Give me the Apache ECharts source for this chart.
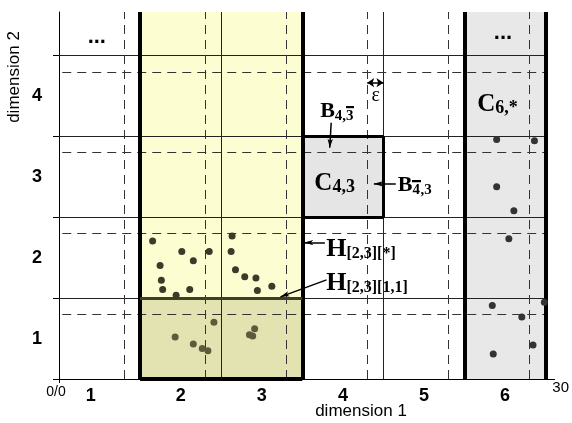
<!DOCTYPE html>
<html><head><meta charset="utf-8">
<script src="https://cdn.jsdelivr.net/npm/echarts@6/dist/echarts.min.js"></script>
<style>html,body{margin:0;padding:0;background:#fff}#c{width:572px;height:423px}</style>
</head><body><div id="c"></div>
<script>
// ---- axis extents ----
const X_MAX = 30.55, Y_MAX = 22.7;
// ---- grid structure (data units) ----
const solidX = [10, 20];
const solidY = [5, 10, 15, 20];
const dashedX = [4, 9, 14, 19, 24, 29];
const dashedY = [4, 9, 14, 19];
const thickX = [5, 15, 25, 30];
// ---- tick labels ----
const xLabelValues = [0, 1.96, 7.5, 12.5, 17.5, 22.5, 27.5, 30];
const xLabelTexts = ['0/0', '1', '2', '3', '4', '5', '6', '30'];
const yLabelValues = [2.5, 7.5, 12.5, 17.5];
const yLabelTexts = ['1', '2', '3', '4'];
const yTickValues = [0, 5, 10, 15, 20];
// ---- points ----
const hullUpperPts = [[5.77,8.54],[7.57,7.88],[9.26,7.88],[6.23,7.02],[8.28,7.31],[6.31,6.11],[6.39,5.53],[7.22,5.18],[8.06,5.53],[10.67,8.84],[10.61,7.88],[10.88,6.75],[11.45,6.32],[12.14,6.25],[12.23,5.47],[13.12,5.74]];
const hullLowerPts = [[7.16,2.60],[8.28,2.17],[8.83,1.88],[9.18,1.75],[9.55,3.51],[11.74,2.74],[11.94,2.66],[12.06,3.11]];
const col6Pts = [[26.98,14.82],[29.31,14.74],[26.98,11.89],[28.04,10.40],[27.73,8.67],[26.71,4.54],[28.53,3.84],[29.92,4.75],[29.22,2.11],[26.77,1.55]];
// ---- annotations (data coords, text) ----
const annLeft = [
  {x:16.10, y:16.53, text:'{b|B}{s|4,}{sbar|3}'},
  {x:15.74, y:12.10, text:'{c|C}{s2|4,3}'},
  {x:20.88, y:11.95, text:'{b|B}{sbar|4}{s|,3}'},
  {x:16.47, y:8.05,  text:'{h|H}{s3|[2,3][*]}'},
  {x:16.47, y:5.94,  text:'{h|H}{s3|[2,3][1,1]}'},
  {x:25.78, y:16.97, text:'{c|C}{s2|6,*}'}
];
const annCenter = [
  {x:2.33, y:21.18, text:'{d|...}'},
  {x:27.37, y:21.42, text:'{d|...}'},
  {x:19.53, y:17.52, text:'{e|\u03b5}'}
];
// ---- arrows [x1,y1,x2,y2] ----
const arrows = [
  [16.78, 15.85, 16.69, 14.30],
  [20.76, 12.07, 19.41, 12.07],
  [16.39, 8.44, 15.12, 8.44],
  [16.49, 6.13, 13.65, 5.08]
];
const epsArrow = [19, 18.33, 20, 18.33];

const serif = '"Liberation Serif","Times New Roman",serif';
const sans = '"Liberation Sans",Arial,sans-serif';

// overline image used as background of a barred subscript token
const barCanvas = document.createElement('canvas');
barCanvas.width = 10; barCanvas.height = 22;
(function(){ const g = barCanvas.getContext('2d'); g.fillStyle = '#000'; g.fillRect(0, 0, 10, 3); })();

function vline(x, y0, y1){ return [{coord:[x,y0]},{coord:[x,y1]}]; }
function hline(y, x0, x1){ return [{coord:[x0,y]},{coord:[x1,y]}]; }

const chart = echarts.init(document.getElementById('c'), null, {renderer:'canvas'});
const noLabel = {show:false};
const option = {
  animation:false,
  grid:{left:59, right:14, top:12, bottom:44},
  xAxis:{
    type:'value', min:0, max:X_MAX,
    splitLine:{show:false},
    axisLine:{lineStyle:{color:'#000', width:1}},
    axisTick:{show:true, customValues:[0], length:4, lineStyle:{color:'#000'}},
    axisLabel:{
      customValues:xLabelValues, margin:8, hideOverlap:false, showMinLabel:true, showMaxLabel:true,
      formatter:function(v){
        const i = xLabelValues.findIndex(function(a){return Math.abs(a-v)<1e-6;});
        if(i<0) return '';
        if(i===0) return '{s|'+xLabelTexts[i]+'}';
        if(i===xLabelTexts.length-1) return '{e|'+xLabelTexts[i]+'}';
        return '{b|'+xLabelTexts[i]+'}';
      },
      rich:{
        b:{fontSize:18, fontWeight:'bold', fontFamily:sans, color:'#000', lineHeight:18},
        s:{fontSize:14, fontFamily:sans, color:'#000', lineHeight:10, padding:[0,6,0,0]},
        e:{fontSize:15, fontFamily:sans, color:'#000', lineHeight:2, padding:[0,0,0,30]}
      }
    }
  },
  yAxis:{
    type:'value', min:0, max:Y_MAX,
    splitLine:{show:false},
    axisLine:{lineStyle:{color:'#000', width:1}},
    axisTick:{show:true, customValues:yTickValues, length:6, lineStyle:{color:'#000'}},
    axisLabel:{
      customValues:yLabelValues, margin:17,
      formatter:function(v){
        const i = yLabelValues.findIndex(function(a){return Math.abs(a-v)<1e-6;});
        return i<0 ? '' : yLabelTexts[i];
      },
      fontSize:18, fontWeight:'bold', fontFamily:sans, color:'#000'
    }
  },
  graphic:[
    {type:'text', x:361, y:411, style:{text:'dimension 1', align:'center', verticalAlign:'middle', font:'17px '+sans, fill:'#000'}},
    {type:'text', x:14, y:77, rotation:Math.PI/2, style:{text:'dimension 2', align:'center', verticalAlign:'middle', font:'17px '+sans, fill:'#000'}}
  ],
  series:[
    { // fills
      type:'line', data:[], z:1, silent:true,
      markArea:{silent:true, label:noLabel, data:[
        [{xAxis:5, itemStyle:{color:'#fdfdd2'}},{xAxis:15}],
        [{coord:[5,0], itemStyle:{color:'#e3e3b2'}},{coord:[15,5]}],
        [{xAxis:25, itemStyle:{color:'#e8e8e8'}},{xAxis:30}],
        [{coord:[15,10], itemStyle:{color:'#e5e5e5'}},{coord:[20,15]}]
      ]}
    },
    { // thin solid grid
      type:'line', data:[], z:2, silent:true,
      markLine:{silent:true, symbol:'none', label:noLabel, lineStyle:{type:'solid', color:'#222', width:1},
        data: solidY.map(function(y){return hline(y,0,30);}).concat(solidX.map(function(x){return vline(x,0,Y_MAX);}))}
    },
    { // dashed grid
      type:'line', data:[], z:2, silent:true,
      markLine:{silent:true, symbol:'none', label:noLabel, lineStyle:{type:[9,6], color:'#333', width:1},
        data: dashedY.map(function(y){return hline(y,0.2,30);}).concat(dashedX.map(function(x){return vline(x,0,Y_MAX);}))}
    },
    { // thick borders
      type:'line', data:[], z:3, silent:true,
      markLine:{silent:true, symbol:'none', label:noLabel, lineStyle:{type:'solid', color:'#000', width:4},
        data: thickX.map(function(x){return vline(x,0,Y_MAX);}).concat([
          hline(0,5,15),
          [{coord:[15,10], lineStyle:{width:3}},{coord:[20,10]}],
          [{coord:[15,15], lineStyle:{width:3}},{coord:[20,15]}],
          [{coord:[20,10], lineStyle:{width:3}},{coord:[20,15]}],
          [{coord:[5,5], lineStyle:{width:3, color:'#3f3f22'}},{coord:[15,5]}]
        ])}
    },
    { // arrows
      type:'line', data:[], z:6, silent:true,
      markLine:{silent:true, symbol:['none','arrow'], symbolSize:[4,9], label:noLabel, lineStyle:{type:'solid', color:'#000', width:1.5},
        data: arrows.map(function(a){return [{coord:[a[0],a[1]]},{coord:[a[2],a[3]]}];}).concat([
          [{coord:[epsArrow[0],epsArrow[1]], symbol:'arrow', symbolSize:7},{coord:[epsArrow[2],epsArrow[3]], symbol:'arrow', symbolSize:7}]
        ])}
    },
    {type:'scatter', z:5, data:hullUpperPts, symbolSize:7, itemStyle:{color:'#3b3b2a', opacity:1}, silent:true},
    {type:'scatter', z:5, data:hullLowerPts, symbolSize:7, itemStyle:{color:'#5c5c3c', opacity:1}, silent:true},
    {type:'scatter', z:5, data:col6Pts, symbolSize:7, itemStyle:{color:'#333', opacity:1}, silent:true},
    { // annotations, left-anchored
      type:'scatter', z:7, symbolSize:0, silent:true, itemStyle:{opacity:1},
      data: annLeft.map(function(a){return {value:[a.x,a.y], text:a.text};}),
      label:{show:true, position:'right', distance:0, color:'#000', opacity:1,
        formatter:function(p){return p.data.text;},
        rich:{
          b:{fontFamily:serif, fontWeight:'bold', fontSize:22, color:'#000', lineHeight:24},
          c:{fontFamily:serif, fontWeight:'bold', fontSize:25, color:'#000', lineHeight:26},
          h:{fontFamily:serif, fontWeight:'bold', fontSize:26, color:'#000', lineHeight:26},
          s:{fontFamily:serif, fontWeight:'bold', fontSize:15, color:'#000', lineHeight:8, verticalAlign:'bottom'},
          sbar:{fontFamily:serif, fontWeight:'bold', fontSize:15, color:'#000', lineHeight:8, verticalAlign:'bottom', padding:[3,0,0,0], backgroundColor:{image:barCanvas}},
          s2:{fontFamily:serif, fontWeight:'bold', fontSize:18, color:'#000', lineHeight:10, verticalAlign:'bottom'},
          s3:{fontFamily:serif, fontWeight:'bold', fontSize:16, color:'#000', lineHeight:8, verticalAlign:'bottom'}
        }
      }
    },
    { // annotations, centered
      type:'scatter', z:7, symbolSize:0, silent:true, itemStyle:{opacity:1},
      data: annCenter.map(function(a){return {value:[a.x,a.y], text:a.text};}),
      label:{show:true, position:'inside', color:'#000', opacity:1,
        formatter:function(p){return p.data.text;},
        rich:{
          d:{fontFamily:sans, fontWeight:'bold', fontSize:22, color:'#000'},
          e:{fontFamily:serif, fontSize:20, color:'#000'}
        }
      }
    }
  ]
};
chart.setOption(option);
</script></body></html>
